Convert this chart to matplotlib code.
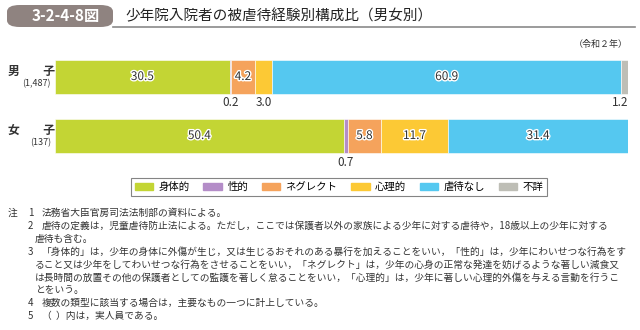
import matplotlib.pyplot as plt
import matplotlib.patheffects as pe
from matplotlib.patches import FancyBboxPatch

plt.rcParams['font.family'] = ['Noto Sans CJK JP', 'DejaVu Sans']

categories = ["身体的", "性的", "ネグレクト", "心理的", "虐待なし", "不詳"]
colors = ["#c3d534", "#b48dc8", "#f5a35c", "#fcc935", "#55c8f0", "#bebeb6"]
groups = ["男\u3000\u3000子", "女\u3000\u3000子"]
counts = ["(1,487)", "(137)"]
male = [30.5, 0.2, 4.2, 3.0, 60.9, 1.2]
female = [50.4, 0.7, 5.8, 11.7, 31.4, 0.0]
notes = [
    ("注", "1", "法務省大臣官房司法法制部の資料による。"),
    ("", "2", "虐待の定義は，児童虐待防止法による。ただし，ここでは保護者以外の家族による少年に対する虐待や，18歳以上の少年に対する"),
    ("", "", "虐待も含む。"),
    ("", "3", "「身体的」は，少年の身体に外傷が生じ，又は生じるおそれのある暴行を加えることをいい，「性的」は，少年にわいせつな行為をす"),
    ("", "", "ること又は少年をしてわいせつな行為をさせることをいい，「ネグレクト」は，少年の心身の正常な発達を妨げるような著しい減食又"),
    ("", "", "は長時間の放置その他の保護者としての監護を著しく怠ることをいい，「心理的」は，少年に著しい心理的外傷を与える言動を行うこ"),
    ("", "", "とをいう。"),
    ("", "4", "複数の類型に該当する場合は，主要なもの一つに計上している。"),
    ("", "5", "（  ）内は，実人員である。"),
]

W, H = 640, 330
fig = plt.figure(figsize=(6.4, 3.3), dpi=100)

def fx(px):
    return px / W

def fy(py):
    return 1 - py / H

# title band
fig.patches.append(FancyBboxPatch((fx(7), fy(27)), fx(106), 22 / H, boxstyle="round,pad=0,rounding_size=0.02",
                                  transform=fig.transFigure, facecolor="#8f8380", edgecolor="none"))
fig.text(fx(66), fy(16), "3-2-4-8図", color="white", fontsize=11, fontweight="bold", ha="center", va="center")
fig.text(fx(125), fy(16), "少年院入院者の被虐待経験別構成比（男女別）", fontsize=10.5, ha="left", va="center", color="#222222")
fig.add_artist(plt.Line2D([fx(113), fx(635)], [fy(27), fy(27)], transform=fig.transFigure, color="#8a8a8a", lw=1.2))
fig.text(fx(628), fy(44), "（令和２年）", fontsize=6.5, ha="right", va="center", color="#333333")

# bars
ax = fig.add_axes([fx(55), fy(170), fx(628) - fx(55), (170 - 45) / H])
ax.set_xlim(0, 100)
ax.set_ylim(170, 45)
ax.axis("off")
rows = [(male, 76.5), (female, 135.5)]
bar_h = 34
for vals, yc in rows:
    left = 0
    for v, c in zip(vals, colors):
        if v > 0:
            ax.barh(yc, v, left=left, height=bar_h, color=c, edgecolor="white", linewidth=0.4)
        left += v

stroke = [pe.withStroke(linewidth=2, foreground="white")]

def inlabel(x, y, s):
    ax.text(x, y, s, ha="center", va="center", fontsize=8.5, color="#333333", path_effects=stroke)

def outlabel(x, y, s, ha="center"):
    ax.text(x, y, s, ha=ha, va="center", fontsize=8.5, color="#333333")

# male labels
cum = [sum(male[:i]) for i in range(len(male))]
for i in [0, 2, 4]:
    inlabel(cum[i] + male[i] / 2, 76.5, f"{male[i]:.1f}")
outlabel(cum[1] + male[1] / 2, 102, f"{male[1]:.1f}")
outlabel(cum[3] + male[3] / 2, 102, f"{male[3]:.1f}")
outlabel(100, 102, f"{male[5]:.1f}", ha="right")

# female labels
cum = [sum(female[:i]) for i in range(len(female))]
for i in [0, 2, 3, 4]:
    inlabel(cum[i] + female[i] / 2, 135.5, f"{female[i]:.1f}")
outlabel(cum[1] + female[1] / 2, 162, f"{female[1]:.1f}")

# group labels
for g, n, (vals, yc) in zip(groups, counts, rows):
    fig.text(fx(8), fy(yc - 5), g, fontsize=8.5, fontweight="bold", ha="left", va="center", color="#333333")
    fig.text(fx(51), fy(yc + 7), n, fontsize=6.5, ha="right", va="center", color="#333333")

# legend
handles = [plt.Rectangle((0, 0), 1, 1, color=c) for c in colors]
leg = fig.legend(handles, categories, ncol=6, loc="center", bbox_to_anchor=(fx(339), fy(187)),
                 fontsize=7.5, frameon=True, fancybox=False, edgecolor="#666666",
                 handlelength=1.8, handleheight=0.7, handletextpad=0.5, columnspacing=1.3,
                 borderpad=0.35)
leg.get_frame().set_linewidth(0.8)

# notes
y = 213
for a, b, t in notes:
    if a:
        fig.text(fx(8), fy(y), a, fontsize=7, ha="left", va="center", color="#333333")
    if b:
        fig.text(fx(28), fy(y), b, fontsize=7, ha="left", va="center", color="#333333")
        fig.text(fx(42), fy(y), t, fontsize=7, ha="left", va="center", color="#333333")
    else:
        fig.text(fx(35), fy(y), t, fontsize=7, ha="left", va="center", color="#333333")
    y += 12.9

fig.savefig("out.png", dpi=100, facecolor="white")
